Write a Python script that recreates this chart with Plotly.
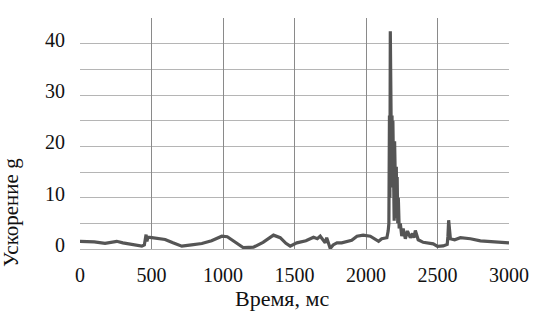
import plotly.graph_objects as go

time_ms = [0, 50, 100, 175, 220, 257, 300, 350, 400, 432, 450, 455, 462, 468, 475,
           502, 550, 595, 650, 712, 780, 852, 920, 992, 1030, 1062, 1100, 1143, 1213,
           1280, 1353, 1400, 1440, 1470, 1516, 1580, 1633, 1660, 1680, 1700, 1715, 1725,
           1740, 1750, 1770, 1797, 1830, 1867, 1900, 1937, 1980, 2030, 2060, 2088, 2110,
           2146, 2155, 2160, 2164, 2167, 2170, 2173, 2176, 2179, 2182, 2185, 2188, 2191,
           2194, 2197, 2200, 2203, 2206, 2209, 2212, 2215, 2218, 2222, 2226, 2232, 2240,
           2250, 2260, 2275, 2290, 2310, 2325, 2335, 2345, 2365, 2400, 2470, 2500, 2540,
           2560, 2568, 2573, 2578, 2590, 2620, 2660, 2730, 2800, 2870, 2940, 3000]
accel_g = [1.5, 1.5, 1.4, 1.1, 1.4, 1.5, 1.2, 0.9, 0.7, 0.55, 0.8, 2.0, 2.8, 1.5, 2.3,
           2.2, 2.1, 1.85, 1.2, 0.55, 0.8, 1.07, 1.6, 2.5, 2.4, 1.8, 1.0, 0.25, 0.35,
           1.3, 2.7, 2.2, 1.1, 0.55, 1.2, 1.6, 2.3, 2.0, 2.5, 1.8, 1.2, 2.2,
           0.6, 0.1, 0.8, 1.2, 1.2, 1.5, 1.7, 2.5, 2.7, 2.5, 2.0, 1.5, 2.0,
           2.2, 3.5, 5.0, 26.0, 10.0, 42.4, 20.0, 39.0, 15.0, 26.0, 12.0, 25.0, 8.0,
           22.0, 5.5, 21.0, 9.0, 17.0, 7.0, 16.0, 6.0, 14.0, 5.0, 10.0, 4.0, 5.0,
           2.5, 4.0, 2.0, 3.5, 2.2, 3.0, 2.2, 3.6, 1.8, 1.3, 1.0, 0.5, 0.6, 0.8,
           0.9, 2.5, 5.6, 2.0, 1.8, 2.2, 2.0, 1.6, 1.5, 1.4, 1.2, 1.3]

x_ticks = [0, 500, 1000, 1500, 2000, 2500, 3000]
x_grid = [500, 1000, 1500, 2000, 2500, 3000]

x_title = "Время, мс"
y_title = "Ускорение g"

serif = "Liberation Serif"

fig = go.Figure()
fig.add_trace(go.Scatter(x=time_ms, y=accel_g, mode="lines",
                         line=dict(color="#555555", width=3.2), showlegend=False))
# invisible trace for grid-only overlay axis
fig.add_trace(go.Scatter(x=[0, 3000], y=[0, 0], xaxis="x2", mode="lines",
                         line=dict(width=0), hoverinfo="skip", showlegend=False))

fig.update_layout(
    width=543, height=324,
    margin=dict(l=80, r=34, t=18, b=74.5),
    paper_bgcolor="white", plot_bgcolor="white",
    font=dict(family=serif, size=20, color="#111111"),
    xaxis=dict(range=[0, 3000], tickvals=x_ticks, ticktext=[str(v) for v in x_ticks],
               showgrid=False, zeroline=False, showline=False, ticks="",
               ticklabelstandoff=12, tickfont=dict(family=serif, size=20)),
    xaxis2=dict(overlaying="x", matches="x", range=[0, 3000], tickvals=x_grid,
                showticklabels=False, showgrid=True, gridcolor="#8a8a8a", gridwidth=1,
                zeroline=False, showline=False, ticks=""),
    yaxis=dict(range=[0, 45], tickmode="linear", tick0=0, dtick=10,
               showgrid=True, gridcolor="#b5b5b5",
               gridwidth=1, zeroline=True, zerolinecolor="#b5b5b5", zerolinewidth=1,
               showline=False, ticks="", ticklabelstandoff=14, ticklabelshift=-4,
               tickfont=dict(family=serif, size=20),
               minor=dict(tickmode="linear", tick0=0, dtick=5, showgrid=True,
                          gridcolor="#b5b5b5", gridwidth=1, ticks="")),
    annotations=[
        dict(text=x_title, xref="paper", yref="paper", x=0.47, y=-0.215,
             xanchor="center", yanchor="middle", showarrow=False,
             font=dict(family=serif, size=22, color="#111111")),
        dict(text=y_title, xref="paper", yref="paper", x=-0.162, y=0.158,
             xanchor="center", yanchor="middle", showarrow=False, textangle=-90,
             font=dict(family=serif, size=21, color="#111111")),
    ],
)

fig.write_html("out.html", config={"displayModeBar": False},
               post_script="document.body.style.margin='0';document.body.style.padding='0';")
